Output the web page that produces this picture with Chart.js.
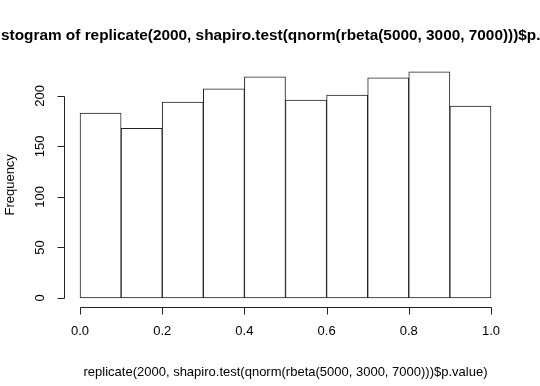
<!DOCTYPE html>
<html>
<head>
<meta charset="utf-8">
<script src="https://cdn.jsdelivr.net/npm/chart.js@4.4.1/dist/chart.umd.min.js"></script>
<style>
  html, body { margin: 0; padding: 0; background: #fff; }
  #wrap { width: 540px; height: 386px; }
</style>
</head>
<body>
<div id="wrap"><canvas id="hist"></canvas></div>
<script>
// histogram data
var breaks = [0, 0.1, 0.2, 0.3, 0.4, 0.5, 0.6, 0.7, 0.8, 0.9, 1.0];
var counts = [183, 168, 194, 207, 219, 196, 201, 218, 224, 190];
var xTicks = [0, 0.2, 0.4, 0.6, 0.8, 1.0];
var xTickLabels = ["0.0", "0.2", "0.4", "0.6", "0.8", "1.0"];
var yTicks = [0, 50, 100, 150, 200];
var mainTitle = "Histogram of replicate(2000, shapiro.test(qnorm(rbeta(5000, 3000, 7000)))$p.value)";
var xTitle = "replicate(2000, shapiro.test(qnorm(rbeta(5000, 3000, 7000)))$p.value)";
var yTitle = "Frequency";

var ink = '#222';
var font = '"Liberation Sans", Arial, Helvetica, sans-serif';

// bar points at bin midpoints
var points = [];
for (var i = 0; i < counts.length; i++) {
  points.push({x: (breaks[i] + breaks[i + 1]) / 2, y: counts[i]});
}

// R-style detached axes, drawn with the chart's own scales
var rAxes = {
  id: 'rAxes',
  afterDraw: function(chart) {
    var ctx = chart.ctx;
    var xs = chart.scales.x, ys = chart.scales.y;
    var area = chart.chartArea;
    ctx.save();
    ctx.strokeStyle = ink;
    ctx.fillStyle = '#000';
    ctx.lineWidth = 1;

    // x axis
    var ay = Math.round(area.bottom) + 0.5;
    ctx.beginPath();
    ctx.moveTo(Math.round(xs.getPixelForValue(xTicks[0])) + 0.5, ay);
    ctx.lineTo(Math.round(xs.getPixelForValue(xTicks[xTicks.length - 1])) + 0.5, ay);
    for (var i = 0; i < xTicks.length; i++) {
      var px = Math.round(xs.getPixelForValue(xTicks[i])) + 0.5;
      ctx.moveTo(px, ay);
      ctx.lineTo(px, ay + 7);
    }
    ctx.stroke();
    ctx.font = '13px ' + font;
    ctx.textAlign = 'center';
    ctx.textBaseline = 'middle';
    for (var i = 0; i < xTicks.length; i++) {
      ctx.fillText(xTickLabels[i], xs.getPixelForValue(xTicks[i]), 331);
    }
    ctx.fillText(xTitle, (area.left + area.right) / 2, 372);

    // y axis
    var ax = Math.round(area.left) + 0.5;
    ctx.beginPath();
    ctx.moveTo(ax, Math.round(ys.getPixelForValue(yTicks[0])) + 0.5);
    ctx.lineTo(ax, Math.round(ys.getPixelForValue(yTicks[yTicks.length - 1])) + 0.5);
    for (var j = 0; j < yTicks.length; j++) {
      var py = Math.round(ys.getPixelForValue(yTicks[j])) + 0.5;
      ctx.moveTo(ax, py);
      ctx.lineTo(ax - 7, py);
    }
    ctx.stroke();
    for (var j = 0; j < yTicks.length; j++) {
      ctx.save();
      ctx.translate(40, ys.getPixelForValue(yTicks[j]));
      ctx.rotate(-Math.PI / 2);
      ctx.fillText(String(yTicks[j]), 0, 0);
      ctx.restore();
    }
    ctx.save();
    ctx.translate(10, (area.top + area.bottom) / 2);
    ctx.rotate(-Math.PI / 2);
    ctx.fillText(yTitle, 0, 0);
    ctx.restore();

    // main title runs off both edges like the original crop:
    // size it so "stogram ... $p." fills the canvas width
    ctx.font = 'bold 100px ' + font;
    var cut = mainTitle.indexOf('stogram');
    var end = mainTitle.indexOf('$p.') + 3;
    var wSeen = ctx.measureText(mainTitle.slice(cut, end)).width;
    var size = 100 * 540 / wSeen;
    ctx.font = 'bold ' + size.toFixed(2) + 'px ' + font;
    var wHead = ctx.measureText(mainTitle.slice(0, cut)).width;
    ctx.textAlign = 'left';
    ctx.fillText(mainTitle, 1 - wHead, 36);
    ctx.restore();
  }
};

var ctxH = document.getElementById("hist").getContext('2d');
var histChart = new Chart(ctxH, {
  type: 'bar',
  data: {
    datasets: [{
      label: "Frequency",
      data: points,
      backgroundColor: '#fff',
      borderColor: ink,
      borderWidth: 1,
      borderSkipped: false,
      barPercentage: 1,
      categoryPercentage: 1
    }]
  },
  options: {
    responsive: true,
    maintainAspectRatio: false,
    animation: false,
    layout: { padding: { left: 63.6, right: 32.6, top: 62.7, bottom: 79 } },
    plugins: { legend: { display: false }, tooltip: { enabled: false } },
    scales: {
      x: { type: 'linear', min: -0.04, max: 1.04, offset: false, display: false },
      y: { type: 'linear', min: -8.96, max: 232.96, display: false }
    }
  },
  plugins: [rAxes]
});
</script>
</body>
</html>
